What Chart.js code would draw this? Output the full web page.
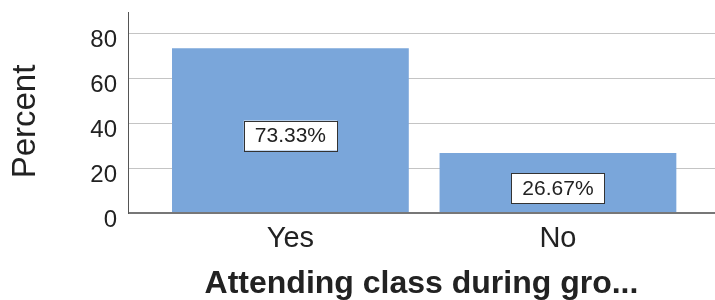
<!DOCTYPE html>
<html>
<head>
<meta charset="utf-8">
<script src="https://cdn.jsdelivr.net/npm/chart.js@4.4.1/dist/chart.umd.min.js"></script>
<style>
    html, body { margin: 0; padding: 0; background: #fff; }
    #wrap { width: 715px; height: 300px; position: relative; }
</style>
</head>
<body>
<div id="wrap"><canvas id="percentChart"></canvas></div>
<script>
const categories = ['Yes', 'No'];
const percentValues = [73.33, 26.67];
const percentLabels = ['73.33%', '26.67%'];
const yTicks = [0, 20, 40, 60, 80];
const xTitle = 'Attending class during gro...';
const yTitle = 'Percent';

const FONT = '"Liberation Sans", Arial, Helvetica, sans-serif';
const TEXT = '#222';

// boxed value labels drawn in the middle of each bar
const boxLabels = {
    id: 'boxLabels',
    afterDatasetsDraw(chart) {
        const ctx = chart.ctx;
        const yScale = chart.scales.y;
        const meta = chart.getDatasetMeta(0);
        ctx.save();
        ctx.font = '21px ' + FONT;
        ctx.textAlign = 'center';
        ctx.textBaseline = 'middle';
        meta.data.forEach((bar, i) => {
            const text = percentLabels[i];
            const cy = yScale.getPixelForValue(percentValues[i] / 2) + 5;
            const w = ctx.measureText(text).width + 22;
            const h = 30;
            ctx.fillStyle = '#fff';
            ctx.fillRect(bar.x - w / 2, cy - h / 2, w, h);
            ctx.strokeStyle = '#333';
            ctx.lineWidth = 1;
            ctx.strokeRect(Math.round(bar.x - w / 2) + 0.5, Math.round(cy - h / 2) + 0.5, Math.round(w), h);
            ctx.fillStyle = TEXT;
            ctx.fillText(text, bar.x, cy + 1);
        });
        ctx.restore();
    }
};

// rotated y title, placed a little below the middle like the original
const yTitlePlugin = {
    id: 'yTitlePlugin',
    afterDraw(chart) {
        const ctx = chart.ctx;
        const area = chart.chartArea;
        ctx.save();
        ctx.translate(26, (area.top + area.bottom) / 2 + 9);
        ctx.rotate(-Math.PI / 2);
        ctx.font = '33px ' + FONT;
        ctx.fillStyle = TEXT;
        ctx.textAlign = 'center';
        ctx.textBaseline = 'middle';
        ctx.fillText(yTitle, 0, 0);
        ctx.restore();
    }
};

new Chart(document.getElementById('percentChart'), {
    type: 'bar',
    data: {
        datasets: [{
            data: percentValues.map((v, i) => ({ x: i, y: v })),
            backgroundColor: '#7aa6da',
            borderWidth: 0,
            categoryPercentage: 1,
            barPercentage: 0.885
        }]
    },
    options: {
        responsive: true,
        maintainAspectRatio: false,
        animation: false,
        layout: { padding: { top: 12, right: 0, left: 0, bottom: 0 } },
        plugins: {
            legend: { display: false },
            tooltip: { enabled: false }
        },
        scales: {
            x: {
                type: 'linear',
                offset: false,
                min: -0.607,
                max: 1.587,
                afterBuildTicks: (axis) => {
                    axis.ticks = categories.map((c, i) => ({ value: i }));
                },
                afterFit: (axis) => {
                    axis.height = 87;
                    axis.paddingLeft = 0;
                    axis.paddingRight = 0;
                },
                grid: { display: false, drawTicks: false },
                border: { display: false },
                ticks: {
                    padding: 9,
                    color: TEXT,
                    font: { family: FONT, size: 29 },
                    callback: (v) => categories[v]
                },
                title: {
                    display: true,
                    text: xTitle,
                    color: TEXT,
                    padding: { top: 0, bottom: 0 },
                    font: { family: FONT, size: 32, weight: 'bold', lineHeight: 1 }
                }
            },
            y: {
                min: 0,
                max: 89.4,
                afterBuildTicks: (axis) => {
                    axis.ticks = yTicks.map((v) => ({ value: v }));
                },
                afterFit: (axis) => {
                    axis.width = 128;
                    axis.paddingTop = 0;
                    axis.paddingBottom = 0;
                },
                grid: {
                    drawTicks: false,
                    color: (c) => (c.tick && c.tick.value === 0 ? '#777' : '#c4c4c4'),
                    lineWidth: (c) => (c.tick && c.tick.value === 0 ? 2 : 1)
                },
                border: { display: true, color: '#555', width: 1 },
                ticks: {
                    padding: 11,
                    labelOffset: 7,
                    color: TEXT,
                    font: { family: FONT, size: 24 }
                }
            }
        }
    },
    plugins: [boxLabels, yTitlePlugin]
});
</script>
</body>
</html>
